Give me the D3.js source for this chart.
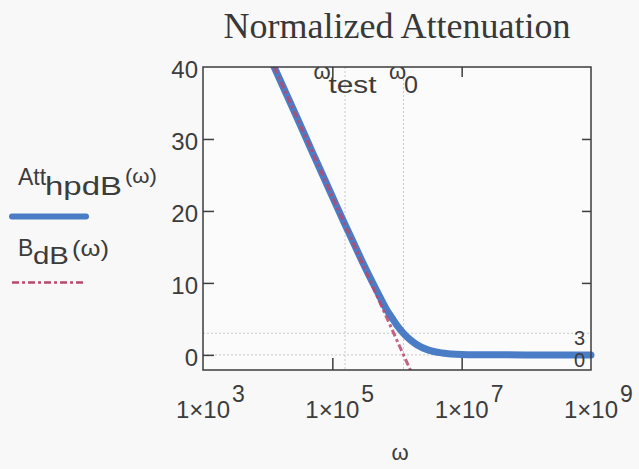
<!DOCTYPE html>
<html>
<head>
<meta charset="utf-8">
<script src="https://cdn.jsdelivr.net/npm/d3@7"></script>
<style>
  html, body { margin: 0; padding: 0; background: #f8f8f8; }
  svg { display: block; }
</style>
</head>
<body>
<svg id="chart" width="639" height="469"></svg>
<script>
// Sampled attenuation curve of the high-pass filter (dB vs rad/s)
const omegaAtt = [1e4, 1.26e4, 2e4, 3e4, 5e4, 7e4, 1e5, 1.5e5, 2e5, 3e5, 5e5, 7e5, 8e5, 1e6, 1.26e6, 1.6e6, 2e6, 3e6, 5e6, 1e7, 3e7, 1e8, 1e9];
const attHpdB  = [42.0, 40.0, 36.0, 32.5, 28.0, 25.1, 22.0, 18.5, 16.1, 12.7, 8.7, 6.2, 5.4, 4.1, 3.0, 2.1, 1.45, 0.7, 0.27, 0.07, 0.01, 0.0, 0.0];

// Straight-line (Bode) asymptote
const omegaB = [1e4, 1e5, 1e6, 2e6];
const bDB    = [42, 22, 2, -4];

// Marker positions
const omegaMarkers = [
  { value: 1.57e5, base: "ω", sub: "test", subWidth: 48 },
  { value: 1.26e6, base: "ω", sub: "0", subWidth: 14 }
];
const levelMarkers = [3, 0];

// Axis ticks
const xTickExps = [3, 5, 7, 9];
const yTicks = [0, 10, 20, 30, 40];

const svg = d3.select("#chart");
const plotL = 203, plotR = 591, plotT = 67, plotB = 370;

const x = d3.scaleLog().domain([1e3, 1e9]).range([plotL, plotR]);
const y = d3.scaleLinear().domain([-2.1, 40]).range([plotB, plotT]);

const axisColor = "#3d3d3d";
const textColor = "#3c3c3c";
const sans = "Arial, 'Liberation Sans', sans-serif";
const blue = "#4b7dc6";
const red = "#b8486e";

// Text piece, optionally stretched horizontally to a given width
function piece(parent, t, px, py, size, w) {
  const el = parent.append("text")
    .attr("font-family", sans).attr("font-size", size).attr("fill", textColor)
    .text(t);
  const natural = el.node().getComputedTextLength();
  const sx = (w && natural) ? w / natural : 1;
  el.attr("transform", `translate(${px},${py}) scale(${sx},1)`);
  return el;
}

// Title
svg.append("text")
  .attr("x", 397).attr("y", 38)
  .attr("text-anchor", "middle")
  .attr("font-family", "'Times New Roman', 'Liberation Serif', serif")
  .attr("font-size", 36)
  .attr("fill", "#383838")
  .text("Normalized Attenuation");

// Plot area background
svg.append("rect")
  .attr("x", plotL).attr("y", plotT)
  .attr("width", plotR - plotL).attr("height", plotB - plotT)
  .attr("fill", "#fbfbfb");

// Dotted marker lines
const markerG = svg.append("g")
  .attr("stroke", "#c8c8c8")
  .attr("stroke-width", 1)
  .attr("stroke-dasharray", "2,2");
omegaMarkers.forEach(m => {
  markerG.append("line")
    .attr("x1", x(m.value)).attr("x2", x(m.value))
    .attr("y1", plotT).attr("y2", plotB);
});
levelMarkers.forEach(v => {
  markerG.append("line")
    .attr("x1", plotL).attr("x2", plotR)
    .attr("y1", y(v)).attr("y2", y(v));
});

// Clip: keep curves inside vertical plot limits
svg.append("clipPath").attr("id", "plotClip")
  .append("rect")
  .attr("x", 0).attr("y", plotT)
  .attr("width", 639).attr("height", plotB - plotT);

const line = d3.line()
  .x(d => x(d[0]))
  .y(d => y(d[1]))
  .curve(d3.curveMonotoneX);

const curves = svg.append("g").attr("clip-path", "url(#plotClip)");

curves.append("path")
  .datum(d3.zip(omegaAtt, attHpdB))
  .attr("d", line)
  .attr("fill", "none")
  .attr("stroke", blue)
  .attr("stroke-width", 7)
  .attr("stroke-linecap", "round")
  .attr("stroke-linejoin", "round");

curves.append("path")
  .datum(d3.zip(omegaB, bDB))
  .attr("d", d3.line().x(d => x(d[0])).y(d => y(d[1])))
  .attr("fill", "none")
  .attr("stroke", red)
  .attr("stroke-opacity", 0.85)
  .attr("stroke-width", 3)
  .attr("stroke-dasharray", "7,3,3,3");

// Frame
svg.append("rect")
  .attr("x", plotL).attr("y", plotT)
  .attr("width", plotR - plotL).attr("height", plotB - plotT)
  .attr("fill", "none")
  .attr("stroke", axisColor)
  .attr("stroke-width", 1.5);

// Y axis (inner ticks on both sides)
const yAxis = d3.axisLeft(y).tickValues(yTicks).tickSize(-11).tickFormat(d3.format("d"));
const yG = svg.append("g").attr("transform", `translate(${plotL},0)`).call(yAxis);
yG.select(".domain").remove();
yG.selectAll(".tick line").attr("stroke", axisColor).attr("stroke-width", 1.5)
  .filter(d => d === 40).remove();
yG.selectAll(".tick text")
  .attr("font-family", sans).attr("font-size", 24).attr("fill", textColor)
  .attr("x", -5).attr("dy", "0.44em");

const yAxisR = d3.axisRight(y).tickValues([10, 20, 30]).tickSize(-9).tickFormat("");
const yGR = svg.append("g").attr("transform", `translate(${plotR},0)`).call(yAxisR);
yGR.select(".domain").remove();
yGR.selectAll(".tick line").attr("stroke", axisColor).attr("stroke-width", 1.5);

// X axis (inner ticks bottom and top)
const innerX = xTickExps.slice(1, -1).map(e => Math.pow(10, e));
const xAxisB = d3.axisBottom(x).tickValues(innerX).tickSize(-12).tickFormat("");
const xGB = svg.append("g").attr("transform", `translate(0,${plotB})`).call(xAxisB);
xGB.select(".domain").remove();
xGB.selectAll(".tick line").attr("stroke", axisColor).attr("stroke-width", 1.5);

const xAxisT = d3.axisTop(x).tickValues(innerX).tickSize(-10).tickFormat("");
const xGT = svg.append("g").attr("transform", `translate(0,${plotT})`).call(xAxisT);
xGT.select(".domain").remove();
xGT.selectAll(".tick line").attr("stroke", axisColor).attr("stroke-width", 1.5);

// X tick labels in 1×10^n form
const xLab = svg.append("g")
  .attr("font-family", sans).attr("font-size", 24).attr("fill", textColor);
xTickExps.forEach(e => {
  const cx = x(Math.pow(10, e));
  xLab.append("text")
    .attr("x", cx).attr("y", 418)
    .attr("text-anchor", "middle")
    .text("1×10");
  xLab.append("text")
    .attr("x", cx + 29).attr("y", 402)
    .attr("font-size", 23)
    .text(String(e));
});

// X axis title
svg.append("text")
  .attr("x", 400).attr("y", 460)
  .attr("text-anchor", "middle")
  .attr("font-family", sans).attr("font-size", 22).attr("fill", textColor)
  .text("ω");

// Marker labels near top: symbol with lowered subscript
omegaMarkers.forEach(m => {
  const cx = x(m.value);
  const baseW = 15;
  const x0 = cx - (baseW + m.subWidth) / 2;
  piece(svg, m.base, x0, 79, 22);
  piece(svg, m.sub, x0 + baseW, 93, 24, m.subWidth);
});

// Level labels at right edge
levelMarkers.forEach(v => {
  svg.append("text")
    .attr("x", 585).attr("y", y(v) + 12)
    .attr("text-anchor", "end")
    .attr("font-family", sans).attr("font-size", 20).attr("fill", textColor)
    .text(String(v));
});

// Legend entries built from text pieces (main, subscript, argument)
const leg = svg.append("g");
piece(leg, "Att",  18,  185, 23);
piece(leg, "hpdB", 45,  195, 25, 77);
piece(leg, "(ω)",  125, 183, 21, 32);
leg.append("line")
  .attr("x1", 12).attr("x2", 86).attr("y1", 216.5).attr("y2", 216.5)
  .attr("stroke", blue).attr("stroke-width", 6).attr("stroke-linecap", "round");

piece(leg, "B",   18, 256, 23);
piece(leg, "dB",  33, 264, 24, 36);
piece(leg, "(ω)", 72, 256, 23, 37);
leg.append("line")
  .attr("x1", 12).attr("x2", 85).attr("y1", 282.5).attr("y2", 282.5)
  .attr("stroke", red).attr("stroke-width", 2.5)
  .attr("stroke-dasharray", "7,3,3,3");
</script>
</body>
</html>
